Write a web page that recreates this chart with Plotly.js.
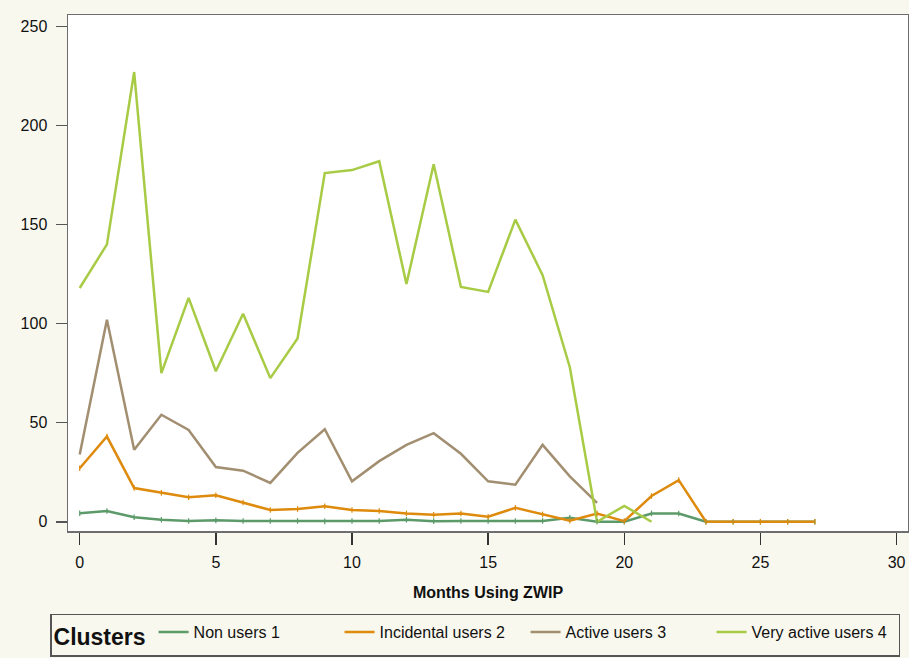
<!DOCTYPE html>
<html>
<head>
<meta charset="utf-8">
<script src="https://cdn.plot.ly/plotly-3.0.1.min.js"></script>
<style>
  html, body { margin: 0; padding: 0; background: #f9f8ee; }
  #chart { width: 909px; height: 658px; }
</style>
</head>
<body>
<div id="chart"></div>
<script>
// Months using ZWIP
const months = [0,1,2,3,4,5,6,7,8,9,10,11,12,13,14,15,16,17,18,19,20,21,22,23,24,25,26,27];

// Series values
const nonUsers    = [4.3, 5.4, 2.3, 1.0, 0.4, 0.7, 0.4, 0.4, 0.4, 0.2, 0.4, 0.4, 1.0, 0.3, 0.4, 0.4, 0.4, 0.4, 2.0, 0, 0, 4.2, 4.2, 0, 0, 0, 0, 0];
const incidental  = [27, 43, 17, 14.6, 12.4, 13.4, 9.7, 5.9, 6.4, 7.8, 5.9, 5.4, 4.2, 3.5, 4.2, 2.5, 7, 3.7, 0.5, 4.2, 0.3, 13, 21, 0, 0, 0, 0, 0];
const active      = [34, 102, 36.3, 54, 46.3, 27.6, 25.8, 19.6, 34.8, 46.7, 20.4, 30.6, 38.8, 44.7, 34.3, 20.4, 18.7, 38.8, 22.9, 9.5];
const veryActive  = [118, 140, 227, 75, 113, 76, 105, 72.5, 92.5, 176, 177.5, 182, 120, 180.5, 118.5, 116, 152.5, 124.5, 78, 0, 8, 0];

const seriesNames = ["Non users 1", "Incidental users 2", "Active users 3", "Very active users 4"];
const xTicks = [0, 5, 10, 15, 20, 25, 30];
const yTicks = [0, 50, 100, 150, 200, 250];

const colors = ["#5c9a6a", "#de8a0c", "#a28e70", "#a8cb45"];
const seriesData = [nonUsers, incidental, active, veryActive];

const traces = [];
seriesData.forEach((vals, i) => {
  traces.push({
    type: "scatter",
    mode: "lines",
    x: months.slice(0, vals.length),
    y: vals,
    name: seriesNames[i],
    line: { color: colors[i], width: 2.5 },
    hoverinfo: "x+y+name"
  });
});
// small point markers on the two lowest series
[0, 1].forEach(i => {
  const vals = seriesData[i];
  traces.push({
    type: "scatter",
    mode: "markers",
    x: months.slice(0, vals.length),
    y: vals,
    showlegend: false,
    hoverinfo: "skip",
    marker: { symbol: "line-ns", size: 4, line: { color: colors[i], width: 1.2 } }
  });
});

const font = "Liberation Sans, Arial, sans-serif";

const layout = {
  width: 909,
  height: 658,
  paper_bgcolor: "#f9f8ee",
  plot_bgcolor: "#ffffff",
  margin: { l: 68, r: 1, t: 15, b: 124 },
  font: { family: font, size: 16, color: "#111" },
  showlegend: true,
  xaxis: {
    range: [-0.43, 30.42],
    tickvals: xTicks,
    ticktext: xTicks.map(String),
    ticks: "outside",
    ticklen: 12,
    tickwidth: 1.5,
    tickcolor: "#333",
    ticklabelstandoff: 4,
    showgrid: false,
    zeroline: false,
    showline: true,
    mirror: true,
    linecolor: "#6e6e6e",
    linewidth: 1.5,
    tickfont: { family: font, size: 16, color: "#111" },
    title: { text: "<b>Months Using ZWIP</b>", font: { family: font, size: 16, color: "#111" }, standoff: 17 }
  },
  yaxis: {
    range: [-4.67, 255.8],
    tickvals: yTicks,
    ticktext: yTicks.map(String),
    ticks: "outside",
    ticklen: 11,
    tickwidth: 1.5,
    tickcolor: "#555",
    ticklabelstandoff: 5,
    showgrid: false,
    zeroline: false,
    showline: true,
    mirror: true,
    linecolor: "#6e6e6e",
    linewidth: 1.5,
    tickfont: { family: font, size: 16, color: "#111" }
  },
  legend: {
    orientation: "h",
    x: -0.0214,
    xanchor: "left",
    y: -0.16,
    yanchor: "top",
    bgcolor: "#f9f8ee",
    bordercolor: "#555",
    borderwidth: 1.5,
    itemwidth: 30,
    entrywidth: 141,
    font: { family: font, size: 16, color: "#111" },
    title: { text: "<b>Clusters</b>", side: "left", font: { family: font, size: 23, color: "#111" } },
    traceorder: "normal",
    itemclick: false,
    itemdoubleclick: false
  }
};

Plotly.newPlot("chart", traces, layout, { displayModeBar: false, staticPlot: true });
</script>
</body>
</html>
